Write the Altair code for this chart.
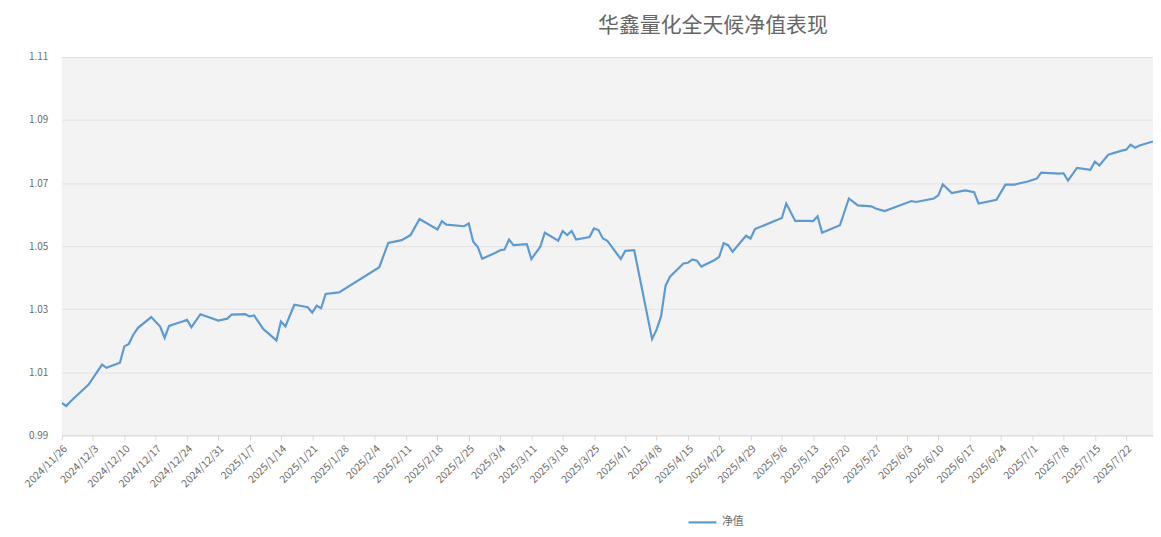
import altair as alt
import pandas as pd

# ---- data ----
dates = [
    "2024-11-26", "2024-11-27", "2024-11-28", "2024-12-02", "2024-12-05", "2024-12-06",
    "2024-12-09", "2024-12-10", "2024-12-11", "2024-12-12", "2024-12-13", "2024-12-16",
    "2024-12-18", "2024-12-19", "2024-12-20", "2024-12-23", "2024-12-24", "2024-12-25",
    "2024-12-27", "2024-12-31", "2025-01-02", "2025-01-03", "2025-01-06", "2025-01-07",
    "2025-01-08", "2025-01-10", "2025-01-13", "2025-01-14", "2025-01-15", "2025-01-17",
    "2025-01-20", "2025-01-21", "2025-01-22", "2025-01-23", "2025-01-24", "2025-01-27",
    "2025-02-05", "2025-02-07", "2025-02-10", "2025-02-12", "2025-02-13", "2025-02-14",
    "2025-02-18", "2025-02-19", "2025-02-20", "2025-02-24", "2025-02-25", "2025-02-26",
    "2025-02-27", "2025-02-28", "2025-03-03", "2025-03-04", "2025-03-05", "2025-03-06",
    "2025-03-07", "2025-03-10", "2025-03-11", "2025-03-13", "2025-03-14", "2025-03-17",
    "2025-03-18", "2025-03-19", "2025-03-20", "2025-03-21", "2025-03-24", "2025-03-25",
    "2025-03-26", "2025-03-27", "2025-03-28", "2025-03-31", "2025-04-01", "2025-04-03",
    "2025-04-07", "2025-04-08", "2025-04-09", "2025-04-10", "2025-04-11", "2025-04-14",
    "2025-04-15", "2025-04-16", "2025-04-17", "2025-04-18", "2025-04-21", "2025-04-22",
    "2025-04-23", "2025-04-24", "2025-04-25", "2025-04-28", "2025-04-29", "2025-04-30",
    "2025-05-06", "2025-05-07", "2025-05-09", "2025-05-12", "2025-05-13", "2025-05-14",
    "2025-05-15", "2025-05-19", "2025-05-21", "2025-05-23", "2025-05-26", "2025-05-27",
    "2025-05-29", "2025-06-04", "2025-06-05", "2025-06-09", "2025-06-10", "2025-06-11",
    "2025-06-13", "2025-06-16", "2025-06-18", "2025-06-19", "2025-06-23", "2025-06-25",
    "2025-06-27", "2025-06-30", "2025-07-02", "2025-07-03", "2025-07-07", "2025-07-08",
    "2025-07-09", "2025-07-11", "2025-07-14", "2025-07-15", "2025-07-16", "2025-07-18",
    "2025-07-21", "2025-07-22", "2025-07-23", "2025-07-24", "2025-07-25", "2025-07-28",
]
nav = [
    1.0003, 0.9993, 1.0008, 1.0061, 1.0124, 1.0114,
    1.0130, 1.0182, 1.0190, 1.0219, 1.0240, 1.0275,
    1.0245, 1.0209, 1.0247, 1.0261, 1.0266, 1.0243,
    1.0284, 1.0264, 1.0270, 1.0283, 1.0284, 1.0277,
    1.0280, 1.0238, 1.0201, 1.0261, 1.0245, 1.0314,
    1.0306, 1.0289, 1.0311, 1.0303, 1.0348, 1.0353,
    1.0433, 1.0510, 1.0519, 1.0535, 1.0561, 1.0586,
    1.0553, 1.0579, 1.0568, 1.0563, 1.0572, 1.0514,
    1.0498, 1.0460, 1.0479, 1.0487, 1.0489, 1.0521,
    1.0503, 1.0506, 1.0459, 1.0498, 1.0543, 1.0517,
    1.0548, 1.0535, 1.0548, 1.0521, 1.0529, 1.0556,
    1.0551, 1.0524, 1.0517, 1.0459, 1.0485, 1.0487,
    1.0205, 1.0235, 1.0277, 1.0374, 1.0403, 1.0445,
    1.0447, 1.0458, 1.0454, 1.0435, 1.0456, 1.0466,
    1.0509, 1.0503, 1.0482, 1.0533, 1.0524, 1.0554,
    1.0589, 1.0635, 1.0580, 1.0580, 1.0579, 1.0595,
    1.0542, 1.0566, 1.0651, 1.0629, 1.0626, 1.0619,
    1.0611, 1.0643, 1.0640, 1.0651, 1.0661, 1.0696,
    1.0668, 1.0677, 1.0671, 1.0635, 1.0647, 1.0695,
    1.0695, 1.0705, 1.0714, 1.0733, 1.0730, 1.0731,
    1.0708, 1.0748, 1.0742, 1.0768, 1.0756, 1.0790,
    1.0803, 1.0806, 1.0822, 1.0812, 1.0819, 1.0832,
]
series_name = "净值"
tick_dates = [
    "2024-11-26", "2024-12-03", "2024-12-10", "2024-12-17", "2024-12-24", "2024-12-31",
    "2025-01-07", "2025-01-14", "2025-01-21", "2025-01-28", "2025-02-04", "2025-02-11",
    "2025-02-18", "2025-02-25", "2025-03-04", "2025-03-11", "2025-03-18", "2025-03-25",
    "2025-04-01", "2025-04-08", "2025-04-15", "2025-04-22", "2025-04-29", "2025-05-06",
    "2025-05-13", "2025-05-20", "2025-05-27", "2025-06-03", "2025-06-10", "2025-06-17",
    "2025-06-24", "2025-07-01", "2025-07-08", "2025-07-15", "2025-07-22", "2025-07-29",
]
y_ticks = [0.99, 1.01, 1.03, 1.05, 1.07, 1.09, 1.11]
x_start, x_end = "2024-11-26", "2025-07-28"
title_text = "华鑫量化全天候净值表现"

df = pd.DataFrame({"日期": dates, "净值": nav, "系列": series_name})


def dt(s):
    y, m, d = (int(p) for p in s.split("-"))
    return alt.DateTime(year=y, month=m, date=d, utc=True)


FONT = "Noto Sans CJK SC"
TXT = "#6b6b6b"

chart = (
    alt.Chart(df)
    .mark_line(strokeWidth=2.2, clip=True)
    .encode(
        x=alt.X(
            "日期:T",
            scale=alt.Scale(type="utc", domain=[dt(x_start), dt(x_end)]),
            axis=alt.Axis(
                values=[dt(s) for s in tick_dates],
                format="%Y/%-m/%-d",
                labelAngle=-45,
                labelAlign="right",
                labelBaseline="top",
                labelPadding=3,
                labelFontSize=10.5,
                labelFont=FONT,
                labelColor=TXT,
                labelOverlap=False,
                labelFlush=False,
                grid=False,
                domainColor="#d9d9d9",
                tickColor="#d9d9d9",
                tickSize=5,
                title=None,
            ),
        ),
        y=alt.Y(
            "净值:Q",
            scale=alt.Scale(domain=[0.99, 1.11], nice=False, zero=False),
            axis=alt.Axis(
                values=y_ticks,
                format=".2f",
                domain=False,
                ticks=False,
                labelPadding=14,
                labelFontSize=10,
                labelFont=FONT,
                labelColor=TXT,
                gridColor="#e2e2e2",
                gridWidth=1,
                title=None,
            ),
        ),
        color=alt.Color(
            "系列:N",
            scale=alt.Scale(range=["#5b9bd5"]),
            legend=alt.Legend(
                title=None,
                orient="none",
                legendX=628,
                legendY=452,
                symbolType="stroke",
                symbolSize=784,
                symbolStrokeWidth=2.2,
                labelFontSize=11,
                labelFont=FONT,
                labelColor=TXT,
            ),
        ),
    )
    .properties(
        width=1096,
        height=380,
        autosize=alt.AutoSizeParams(type="none"),
        padding={"left": 54, "top": 48, "right": 0, "bottom": 100},
        title=alt.Title(
            title_text,
            fontSize=21,
            font=FONT,
            fontWeight="normal",
            color="#666666",
            anchor="middle",
            dx=106,
            offset=16,
        ),
    )
    .configure_view(fill="#f3f3f3", stroke=None)
)

chart.save("out.html", embed_options={"renderer": "svg", "actions": False})
